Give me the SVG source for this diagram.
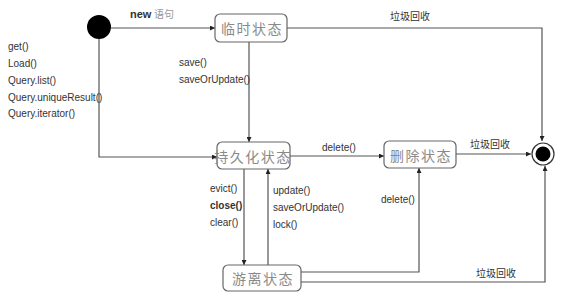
<svg xmlns="http://www.w3.org/2000/svg" width="564" height="307" viewBox="0 0 564 307">
<style>
.box{fill:#fff;stroke:#666;stroke-width:1.2}
.st{font-family:"Noto Sans CJK SC","Noto Sans",sans-serif;font-size:14px;fill:#8a8a8a;letter-spacing:1.5px;text-anchor:middle;dominant-baseline:central}
.ln{fill:none;stroke:#555;stroke-width:1.2}
.lb{font-family:"Liberation Sans",Arial,sans-serif;font-size:10px;fill:#333}
.cn{font-family:"Noto Sans CJK SC",sans-serif;font-size:10px;fill:#333}
</style>
<defs>
<marker id="ar" viewBox="0 0 10 10" refX="10" refY="5" markerWidth="5" markerHeight="5" orient="auto" markerUnits="userSpaceOnUse">
<path d="M0,0 L10,5 L0,10 z" fill="#222"/>
</marker>
</defs>
<rect width="564" height="307" fill="#fff"/>
<g id="connectors">
<path class="ln" d="M111,28 H215" marker-end="url(#ar)"/>
<path class="ln" d="M287,28 H542 V141" marker-end="url(#ar)"/>
<path class="ln" d="M249,42 V142" marker-end="url(#ar)"/>
<path class="ln" d="M99,39 V157 H217" marker-end="url(#ar)"/>
<path class="ln" d="M290,156 H384" marker-end="url(#ar)"/>
<path class="ln" d="M456,154 H531" marker-end="url(#ar)"/>
<path class="ln" d="M244,169 V265" marker-end="url(#ar)"/>
<path class="ln" d="M268,265 V169" marker-end="url(#ar)"/>
<path class="ln" d="M301,272 H419 V168" marker-end="url(#ar)"/>
<path class="ln" d="M301,282 H545 V166" marker-end="url(#ar)"/>
<text x="130" y="18" class="lb" style="font-weight:bold;font-size:11px">new</text>
<text x="154" y="18" class="cn" style="fill:#999">语句</text>
<text x="390" y="20" class="cn">垃圾回收</text>
<text x="179" y="66" class="lb">save()</text>
<text x="179" y="83" class="lb">saveOrUpdate()</text>
<text x="8" y="50" class="lb">get()</text>
<text x="8" y="67" class="lb">Load()</text>
<text x="8" y="84" class="lb">Query.list()</text>
<text x="8" y="101" class="lb">Query.uniqueResult()</text>
<text x="8" y="117" class="lb">Query.iterator()</text>
<text x="322" y="151" class="lb">delete()</text>
<text x="470" y="148" class="cn">垃圾回收</text>
<text x="210" y="192" class="lb">evict()</text>
<text x="210" y="209" class="lb" style="font-weight:bold">close()</text>
<text x="210" y="226" class="lb">clear()</text>
<text x="273" y="194" class="lb">update()</text>
<text x="273" y="211" class="lb">saveOrUpdate()</text>
<text x="273" y="228" class="lb">lock()</text>
<text x="381" y="203" class="lb">delete()</text>
<text x="476" y="277" class="cn">垃圾回收</text>
</g>
<g id="start"><circle cx="99" cy="27" r="12" fill="#000"/></g>
<g id="temp"><rect class="box" x="215" y="14" width="72" height="28" rx="5"/><text class="st" x="252" y="28">临时状态</text></g>
<g id="persist"><rect class="box" x="217" y="142" width="73" height="27" rx="5"/><text class="st" x="253" y="155.5">持久化状态</text></g>
<g id="deleted"><rect class="box" x="384" y="141" width="72" height="27" rx="5"/><text class="st" x="421" y="154.5">删除状态</text></g>
<g id="detached"><rect class="box" x="223" y="265" width="78" height="26" rx="5"/><text class="st" x="263" y="278">游离状态</text></g>
<g id="end"><circle cx="543" cy="154" r="11" fill="#fff" stroke="#333" stroke-width="1.2"/><circle cx="543" cy="154" r="7.5" fill="#000"/></g>
</svg>
